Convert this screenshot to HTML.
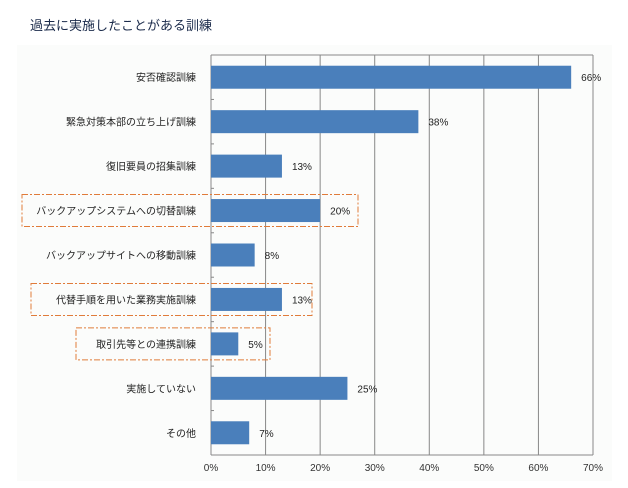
<!DOCTYPE html>
<html><head><meta charset="utf-8"><style>
body{margin:0;background:#fff;font-family:"Liberation Sans","Noto Sans CJK JP",sans-serif;}
</style></head><body>
<svg width="628" height="483" xmlns="http://www.w3.org/2000/svg">
<text x="30" y="30" font-size="13" fill="#1a2a4a">過去に実施したことがある訓練</text>
<rect x="17" y="45" width="595" height="436" fill="#fbfcfb"/>
<g id="g"></g>
</svg>
<script>
const categories=["安否確認訓練","緊急対策本部の立ち上げ訓練","復旧要員の招集訓練","バックアップシステムへの切替訓練","バックアップサイトへの移動訓練","代替手順を用いた業務実施訓練","取引先等との連携訓練","実施していない","その他"];
const values=[66,38,13,20,8,13,5,25,7];
const valueLabels=["66%","38%","13%","20%","8%","13%","5%","25%","7%"];
const ticks=[0,10,20,30,40,50,60,70];
const highlighted=[3,5,6];
const boxExtents={3:[22,358],5:[31,312],6:[76,270]};
const NS="http://www.w3.org/2000/svg",g=document.getElementById('g');
const x0=211,x1=593,y0=55,y1=455;
const xs=v=>x0+(v/70)*(x1-x0);
const band=(y1-y0)/categories.length;
function mk(t,a){const e=document.createElementNS(NS,t);for(const k in a)e.setAttribute(k,a[k]);g.appendChild(e);return e;}
ticks.forEach((t,i)=>{
 if(i>0){const l=mk('line',{x1:xs(t),x2:xs(t),y1:y0,y2:y1,stroke:'#888','stroke-width':1});
 
 }
 const tx=mk('text',{x:xs(t),y:471,'font-size':10,'text-anchor':'middle',fill:'#333'});tx.textContent=t+'%';
 
 
});
mk('line',{x1:x0,x2:x1,y1:y0,y2:y0,stroke:'#888'});
let ax=mk('line',{x1:x0,x2:x0,y1:y0,y2:y1,stroke:'#888'});


let bx=mk('line',{x1:x0,x2:x1,y1:y1,y2:y1,stroke:'#888'});


for(let i=1;i<categories.length;i++)mk('line',{x1:x0,x2:x0+3,y1:y0+band*i,y2:y0+band*i,stroke:'#888'});
categories.forEach((c,i)=>{
 const cy=y0+band*(i+0.5);
 const b=mk('rect',{x:x0,y:cy-11.5,width:xs(values[i])-x0,height:23,fill:'#4a7fbb'});
 
 
 const l=mk('text',{x:196,y:cy+4,'font-size':10,'text-anchor':'end',fill:'#222'});l.textContent=c;
 
 
 const v=mk('text',{x:xs(values[i])+10,y:cy+4,'font-size':10,fill:'#222'});v.textContent=valueLabels[i];
 
 
 if(highlighted.includes(i)){
  const e=boxExtents[i];
  const r=mk('rect',{x:e[0],y:cy-16,width:e[1]-e[0],height:32,fill:'none',stroke:'#e07b3a','stroke-dasharray':'6,2,2,2','stroke-width':1});
  
  
 }
});
</script>
</body></html>
